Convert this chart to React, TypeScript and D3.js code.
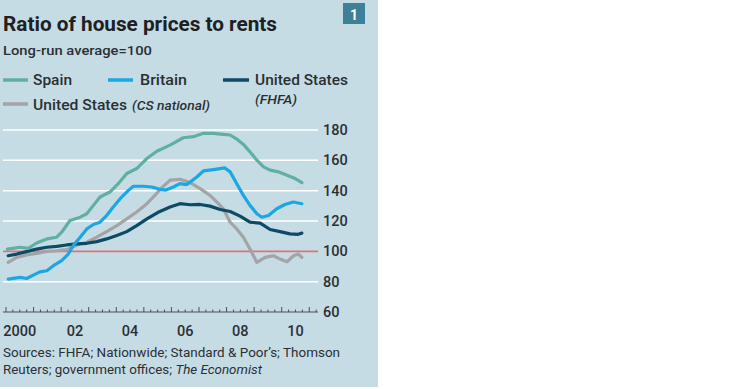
import React from "react";
import * as d3 from "d3";

// [decimal year, ratio]
const spain: [number, number][] = [
  [2000.05, 101.5], [2000.51, 102.7], [2000.81, 102], [2001.11, 105.5], [2001.48, 108.2],
  [2001.84, 109.3], [2002.02, 112.6], [2002.32, 120.3], [2002.69, 122.5], [2002.93, 124.8],
  [2003.17, 130.3], [2003.41, 135.8], [2003.77, 139.1], [2004.07, 144.6], [2004.38, 151.3],
  [2004.74, 154.6], [2005.11, 161.2], [2005.47, 166], [2005.95, 170], [2006.43, 174.9],
  [2006.8, 175.6], [2007.16, 177.8], [2007.52, 177.8], [2007.88, 177.1], [2008.13, 176.7],
  [2008.37, 174], [2008.61, 170.5], [2008.85, 165.6], [2009.1, 160.1], [2009.34, 155.7],
  [2009.58, 153.5], [2009.88, 152.4], [2010.19, 150.2], [2010.49, 148], [2010.73, 145.3],
];

const britain: [number, number][] = [
  [2000.08, 81.7], [2000.51, 82.8], [2000.75, 82.1], [2000.99, 84.3], [2001.23, 86.5],
  [2001.48, 87.2], [2001.72, 90.5], [2002.02, 93.8], [2002.26, 98.2], [2002.44, 103.8],
  [2002.69, 109.3], [2002.93, 114.8], [2003.17, 117.7], [2003.41, 119.2], [2003.65, 123.6],
  [2003.89, 129.2], [2004.14, 134.7], [2004.44, 140.2], [2004.62, 142.9], [2004.98, 142.9],
  [2005.29, 142.4], [2005.59, 140.9], [2005.8, 140.4], [2006.07, 142.4], [2006.31, 144.6],
  [2006.56, 144], [2006.92, 149], [2007.16, 153], [2007.52, 153.9], [2007.94, 155],
  [2008.13, 152.4], [2008.37, 144.6], [2008.61, 136.9], [2008.85, 130.3], [2009.1, 124.8],
  [2009.28, 122.5], [2009.52, 123.6], [2009.82, 128.1], [2010.12, 130.9], [2010.42, 132.5],
  [2010.73, 131.4],
];

const usFhfa: [number, number][] = [
  [2000.08, 97.1], [2000.39, 98.2], [2000.75, 99.8], [2001.11, 101.5], [2001.48, 102.7],
  [2001.84, 103.3], [2002.2, 104.2], [2002.57, 104.9], [2002.93, 105.3], [2003.29, 106.4],
  [2003.65, 108.2], [2004.02, 110.4], [2004.38, 113], [2004.74, 117], [2005.11, 121.4],
  [2005.5, 125.6], [2005.95, 129.2], [2006.31, 131.4], [2006.68, 130.7], [2007.04, 130.9],
  [2007.4, 129.8], [2007.77, 127.6], [2008.13, 126.3], [2008.49, 123.2], [2008.85, 119.2],
  [2009.22, 118.6], [2009.58, 114.4], [2009.94, 113], [2010.3, 111.5], [2010.6, 111.2],
  [2010.73, 112],
];

const usCs: [number, number][] = [
  [2000.08, 92.7], [2000.39, 96], [2000.75, 97.6], [2001.11, 98.7], [2001.48, 100],
  [2001.84, 100.4], [2002.2, 101.1], [2002.57, 104.2], [2002.93, 106], [2003.29, 109.3],
  [2003.65, 113], [2004.02, 117], [2004.38, 121.4], [2004.74, 125.9], [2005.11, 131.4],
  [2005.41, 137], [2005.59, 141], [2005.95, 146.9], [2006.31, 147.5], [2006.68, 145.3],
  [2007.04, 141.3], [2007.4, 136.9], [2007.65, 132.5], [2007.88, 128.1], [2008.13, 119.2],
  [2008.37, 114.8], [2008.61, 109.3], [2008.85, 101.5], [2009.1, 92.7], [2009.4, 96],
  [2009.7, 97.1], [2009.94, 94.9], [2010.19, 93.1], [2010.43, 97.1], [2010.61, 98.2],
  [2010.73, 96],
];

const yTicks = [60, 80, 100, 120, 140, 160, 180];
const yearLabels = ["2000", "02", "04", "06", "08", "10"];
const labelYears = [2000, 2002, 2004, 2006, 2008, 2010];

const BG = "#c6dce5";
const TEAL = "#5fb0a2";
const BLUE = "#1aa7e2";
const NAVY = "#0c4a66";
const GREY = "#a4a3a6";
const RED = "#e0727a";
const TEXT = "#2a2f33";
const FONT = "Roboto, 'Open Sans', sans-serif";

export default function App() {
  const x = d3.scaleLinear().domain([2000, 2011.28]).range([6, 317]);
  const y = d3.scaleLinear().domain([60, 180]).range([312, 130]);
  const plotLeft = 3;
  const plotRight = 318;

  const line = d3
    .line<[number, number]>()
    .x((d) => x(d[0]))
    .y((d) => y(d[1]));

  const quarterTicks = d3.range(2000, 2011.26, 0.25);

  return (
    <svg
      width={740}
      height={389}
      style={{ position: "absolute", left: 0, top: 0, fontFamily: FONT }}
    >
      <rect x={0} y={0} width={740} height={389} fill="#ffffff" />
      <rect x={0} y={0} width={378} height={387} fill={BG} />

      {/* badge */}
      <rect x={343} y={3} width={22} height={21} fill="#3f8099" />
      <text x={354} y={19.5} textAnchor="middle" fill="#fff" fontSize={14} fontWeight="bold">
        1
      </text>

      {/* titles */}
      <text x={3} y={31} fontSize={20} fontWeight="bold" fill="#1d2124" textLength={274} lengthAdjust="spacingAndGlyphs">
        Ratio of house prices to rents
      </text>
      <text x={3} y={55} fontSize={13.5} fill={TEXT} fontWeight={500} textLength={149} lengthAdjust="spacingAndGlyphs">
        Long-run average=100
      </text>

      {/* legend */}
      <g fontSize={14.5} fill={TEXT} fontWeight={500}>
        <line x1={3} x2={28} y1={80} y2={80} stroke={TEAL} strokeWidth={3.5} />
        <text x={33} y={85} textLength={39} lengthAdjust="spacingAndGlyphs">Spain</text>
        <line x1={108} x2={133} y1={80} y2={80} stroke={BLUE} strokeWidth={3.5} />
        <text x={140} y={85} textLength={47} lengthAdjust="spacingAndGlyphs">Britain</text>
        <line x1={223} x2={249} y1={80} y2={80} stroke={NAVY} strokeWidth={3.5} />
        <text x={255} y={85} textLength={93} lengthAdjust="spacingAndGlyphs">United States</text>
        <text x={255} y={104} fontSize={12} fontStyle="italic" textLength={42} lengthAdjust="spacingAndGlyphs">
          (FHFA)
        </text>
        <line x1={3} x2={28} y1={104} y2={104} stroke={GREY} strokeWidth={3.5} />
        <text x={33} y={110} textLength={94} lengthAdjust="spacingAndGlyphs">United States</text>
        <text x={132} y={110} fontSize={12} fontStyle="italic" textLength={78} lengthAdjust="spacingAndGlyphs">
          (CS national)
        </text>
      </g>

      {/* gridlines */}
      {yTicks.filter((t) => t !== 60 && t !== 100).map((t) => (
        <line key={t} x1={plotLeft} x2={plotRight} y1={y(t)} y2={y(t)} stroke="#ffffff" strokeWidth={1.5} />
      ))}
      <line x1={plotLeft} x2={plotRight} y1={y(100)} y2={y(100)} stroke={RED} strokeWidth={1.6} />

      {/* x axis */}
      <line x1={plotLeft} x2={plotRight} y1={y(60)} y2={y(60)} stroke="#4a4f52" strokeWidth={1} />
      {quarterTicks.map((q, i) => (
        <line
          key={i}
          x1={x(q)}
          x2={x(q)}
          y1={y(60)}
          y2={y(60) - (i % 4 === 0 ? 5 : 2.5)}
          stroke="#4a4f52"
          strokeWidth={1}
        />
      ))}

      {/* y labels */}
      {yTicks.map((t) => (
        <text key={t} x={323} y={y(t) + 5} fontSize={14.5} fill={TEXT} fontWeight={500}>
          {t}
        </text>
      ))}

      {/* x labels */}
      {labelYears.map((yr, i) => (
        <text key={yr} x={x(yr + 0.5)} y={336} fontSize={14.5} fill={TEXT} fontWeight={500} textAnchor="middle">
          {yearLabels[i]}
        </text>
      ))}

      {/* series */}
      <g fill="none" strokeWidth={3.2} strokeLinejoin="round" strokeLinecap="round">
        <path d={line(usCs) ?? ""} stroke={GREY} />
        <path d={line(usFhfa) ?? ""} stroke={NAVY} />
        <path d={line(britain) ?? ""} stroke={BLUE} />
        <path d={line(spain) ?? ""} stroke={TEAL} />
      </g>

      {/* sources */}
      <text x={3} y={357} fontSize={12.5} fill={TEXT} textLength={337} lengthAdjust="spacingAndGlyphs">
        Sources: FHFA; Nationwide; Standard &amp; Poor’s; Thomson
      </text>
      <text x={3} y={374} fontSize={12.5} fill={TEXT} textLength={259} lengthAdjust="spacingAndGlyphs">
        <tspan>Reuters; government offices; </tspan>
        <tspan fontStyle="italic">The Economist</tspan>
      </text>
    </svg>
  );
}
